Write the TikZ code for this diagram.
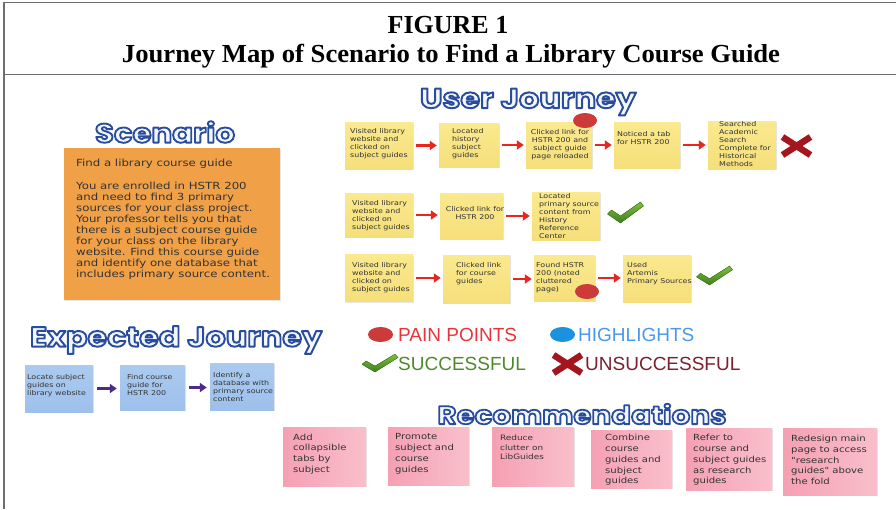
\documentclass[tikz,border=0pt]{standalone}
\usepackage{fontspec}
\usepackage{graphicx}
\setmainfont{Liberation Serif}
\newfontfamily\hand[FakeStretch=1.2]{DejaVu Sans}
\newfontfamily\legf{Liberation Sans}
\newfontfamily\headf[FakeStretch=1.15]{Poppins}
\usetikzlibrary{arrows.meta,shadows,shapes.geometric}
\definecolor{framec}{HTML}{6E6E6E}
\definecolor{orangen}{HTML}{F0A046}
\definecolor{yelT}{HTML}{FAE98E}
\definecolor{yelB}{HTML}{F6DF7A}
\definecolor{blueT}{HTML}{ABCAEF}
\definecolor{blueB}{HTML}{9DC0EC}
\definecolor{pinkA}{HTML}{F5A0B3}
\definecolor{pinkB}{HTML}{F9BFCB}
\definecolor{arrred}{HTML}{E8261E}
\definecolor{arrpur}{HTML}{4B2A8C}
\definecolor{dotred}{HTML}{CC3A3A}
\definecolor{dotblue}{HTML}{1A92E0}
\definecolor{chkL}{HTML}{7CC043}
\definecolor{chkD}{HTML}{3F7E1C}
\definecolor{xred}{HTML}{A3161E}
\definecolor{inkc}{HTML}{333333}
\definecolor{legred}{HTML}{E8343A}
\definecolor{legblue}{HTML}{4A98EC}
\definecolor{leggreen}{HTML}{4E8A2C}
\definecolor{legdred}{HTML}{7A2030}
\newcommand\outlined[1]{\special{pdf:literal direct 2 Tr 1.4 w 1 j 0.165 0.298 0.612 RG 0.95 0.97 0.995 rg}#1\special{pdf:literal direct 0 Tr 0 0 0 RG 0 0 0 rg}}
\newcommand\heading[2]{\resizebox{#1}{!}{\headf\bfseries\fontsize{20}{24}\selectfont\outlined{#2}}}
\begin{document}
\begin{tikzpicture}[x=1pt,y=-1pt,
  frame/.style={draw=framec, line width=1.8pt},
  note/.style={inner sep=0pt, drop shadow={shadow xshift=0.6pt, shadow yshift=-1.2pt, opacity=0.2}},
  ynote/.style={note, top color=yelT, bottom color=yelB},
  bnote/.style={note, top color=blueT, bottom color=blueB},
  pnote/.style={note, left color=pinkA, right color=pinkB},
  onote/.style={note, fill=orangen},
  ytxt/.style={font=\hand\fontsize{6.6}{8}\selectfont, text=inkc, align=left, inner sep=0pt, anchor=west},
  ctxt/.style={ytxt, align=center, anchor=center},
  ptxt/.style={font=\hand\fontsize{8.4}{10.8}\selectfont, text=inkc, align=left, inner sep=0pt, anchor=west},
  stxt/.style={font=\hand\fontsize{9.8}{11}\selectfont, text=inkc, align=left, inner sep=0pt, anchor=west},
  rarr/.style={draw=arrred, line width=2.6pt, -{Triangle[length=7pt,width=9pt]}, shorten <=3pt, shorten >=2pt},
  parr/.style={draw=arrpur, line width=2.6pt, -{Triangle[length=7pt,width=9pt]}, shorten <=4pt, shorten >=3pt},
  dot/.style={ellipse, minimum width=24pt, minimum height=15pt, inner sep=0pt},
  legtxt/.style={font=\legf\fontsize{19}{22}\selectfont, anchor=west, inner sep=0pt},
  head/.style={inner sep=0pt},
  titletxt/.style={font=\bfseries\fontsize{26}{30}\selectfont, anchor=base, inner sep=0pt},
  pics/chk/.style={code={\fill[top color=chkL, bottom color=chkD, draw=chkD, line width=0.4pt, line join=round] (-18,1) -- (-14,-3) -- (-5,3) -- (15,-11) -- (18,-7) -- (-5,10) -- cycle;}},
  pics/xmk/.style={code={\draw[xred, line width=6.5pt] (-14,-9) -- (14,9) (-14,9) -- (14,-9);}}
]
\useasboundingbox (0,0) rectangle (896,509);
% frame
\draw[frame] (4,2.5) -- (896,2.5);
\draw[frame] (4,74.5) -- (896,74.5);
\draw[frame] (4,1.6) -- (4,509);
% title
\node[titletxt] (t1) at (448,33) {FIGURE 1};
\node[titletxt] (t2) at (451,62) {\scalebox{1.025}[1]{Journey Map of Scenario to Find a Library Course Guide}};
% headings
\node[head] (hs) at (165,132) {\heading{140pt}{Scenario}};
\node[head] (hu) at (528,102) {\heading{216pt}{User Journey}};
\node[head] (he) at (176,340) {\heading{292pt}{Expected Journey}};
\node[head] (hr) at (582,414) {\heading{289pt}{Recommendations}};
% scenario
\node[onote, minimum width=216pt, minimum height=152pt] (sc) at (172,224) {};
\node[stxt] (sct) at (76,219) {Find a library course guide\\[12pt]You are enrolled in HSTR 200\\and need to find 3 primary\\sources for your class project.\\Your professor tells you that\\there is a subject course guide\\for your class on the library\\website. Find this course guide\\and identify one database that\\includes primary source content.};
% user journey row 1
\node[ynote, minimum width=68pt, minimum height=47pt] (a1) at (379,145.5) {};
\node[ynote, minimum width=60pt, minimum height=44pt] (a2) at (469,145) {};
\node[ynote, minimum width=66pt, minimum height=46pt] (a3) at (559,145) {};
\node[ynote, minimum width=66pt, minimum height=46pt] (a4) at (647,145) {};
\node[ynote, minimum width=68pt, minimum height=48pt] (a5) at (742,145) {};
\node[ytxt] (a1t) at (350,143.5) {Visited library\\website and\\clicked on\\subject guides};
\node[ytxt] (a2t) at (452,144) {Located\\history\\subject\\guides};
\node[ctxt] (a3t) at (560,145) {Clicked link for\\HSTR 200 and\\subject guide\\page reloaded};
\node[ytxt] (a4t) at (617,138) {Noticed a tab\\for HSTR 200};
\node[ytxt] (a5t) at (719,144.5) {Searched\\Academic\\Search\\Complete for\\Historical\\Methods};
\node[dot, fill=dotred] (d1) at (585,120.5) {};
\pic at (796.5,146) {xmk};
\draw[rarr] (a1.east) -- (a1.east -| a2.west);
\draw[rarr] (a2.east) -- (a2.east -| a3.west);
\draw[rarr] (a3.east) -- (a3.east -| a4.west);
\draw[rarr] (a4.east) -- (a4.east -| a5.west);
% row 2
\node[ynote, minimum width=68pt, minimum height=44pt] (b1) at (379,215) {};
\node[ynote, minimum width=63pt, minimum height=46pt] (b2) at (471.5,216) {};
\node[ynote, minimum width=68pt, minimum height=48pt] (b3) at (566,216) {};
\node[ytxt] (b1t) at (352,215.5) {Visited library\\website and\\clicked on\\subject guides};
\node[ctxt] (b2t) at (475,213.5) {Clicked link for\\HSTR 200};
\node[ytxt] (b3t) at (539,216) {Located\\primary source\\content from\\History\\Reference\\Center};
\pic at (625.5,213) {chk};
\draw[rarr] (b1.east) -- (b1.east -| b2.west);
\draw[rarr] (b2.east) -- (b2.east -| b3.west);
% row 3
\node[ynote, minimum width=68pt, minimum height=47pt] (c1) at (379,278) {};
\node[ynote, minimum width=67pt, minimum height=48pt] (c2) at (476.5,279) {};
\node[ynote, minimum width=61pt, minimum height=46pt] (c3) at (564.5,278) {};
\node[ynote, minimum width=68pt, minimum height=47pt] (c4) at (657,278.5) {};
\node[ytxt] (c1t) at (352,277.5) {Visited library\\website and\\clicked on\\subject guides};
\node[ytxt] (c2t) at (456,273.5) {Clicked link\\for course\\guides};
\node[ytxt] (c3t) at (536,277.5) {Found HSTR\\200 (noted\\cluttered\\page)};
\node[ytxt] (c4t) at (627,273.5) {Used\\Artemis\\Primary Sources};
\node[dot, fill=dotred] (d2) at (587,291.5) {};
\pic[yscale=0.9] at (714.5,276) {chk};
\draw[rarr] (c1.east) -- (c1.east -| c2.west);
\draw[rarr] (c2.east) -- (c2.east -| c3.west);
\draw[rarr] (c3.east) -- (c3.east -| c4.west);
% legend
\node[dot, fill=dotred, minimum width=25pt] (lg1) at (380.5,334.5) {};
\node[legtxt, text=legred] (lg1t) at (398,334.5) {PAIN POINTS};
\node[dot, fill=dotblue, minimum width=25pt] (lg2) at (562.5,334.5) {};
\node[legtxt, text=legblue] (lg2t) at (578,334.5) {HIGHLIGHTS};
\pic[yscale=0.85] at (380,363.5) {chk};
\node[legtxt, text=leggreen] (lg3t) at (398,364) {SUCCESSFUL};
\pic at (567.5,364) {xmk};
\node[legtxt, text=legdred] (lg4t) at (585,364) {UNSUCCESSFUL};
% expected journey
\node[bnote, minimum width=68pt, minimum height=47pt] (e1) at (59,388.5) {};
\node[bnote, minimum width=65pt, minimum height=45pt] (e2) at (152.5,387.5) {};
\node[bnote, minimum width=64pt, minimum height=47pt] (e3) at (242,386.5) {};
\node[ytxt] (e1t) at (27,386) {Locate subject\\guides on\\library website};
\node[ytxt] (e2t) at (127,385) {Find course\\guide for\\HSTR 200};
\node[ytxt] (e3t) at (213,387.5) {Identify a\\database with\\primary source\\content};
\draw[parr] (e1.east) -- (e1.east -| e2.west);
\draw[parr] (e2.east) -- (e2.east -| e3.west);
% recommendations
\node[pnote, minimum width=83pt, minimum height=59pt] (p1) at (324.5,456.5) {};
\node[pnote, minimum width=81pt, minimum height=58pt] (p2) at (428.5,456) {};
\node[pnote, minimum width=82pt, minimum height=59pt] (p3) at (533,456.5) {};
\node[pnote, minimum width=81pt, minimum height=58pt] (p4) at (631.5,459) {};
\node[pnote, minimum width=86pt, minimum height=62pt] (p5) at (729,459) {};
\node[pnote, minimum width=94pt, minimum height=67pt] (p6) at (830,461.5) {};
\node[ptxt] (p1t) at (293,454) {Add\\collapsible\\tabs by\\subject};
\node[ptxt] (p2t) at (395,454) {Promote\\subject and\\course\\guides};
\node[ptxt, font=\hand\fontsize{7.4}{9.3}\selectfont] (p3t) at (500,447.5) {Reduce\\clutter on\\LibGuides};
\node[ptxt] (p4t) at (605,460) {Combine\\course\\guides and\\subject\\guides};
\node[ptxt] (p5t) at (693,460) {Refer to\\course and\\subject guides\\as research\\guides};
\node[ptxt] (p6t) at (791,460) {Redesign main\\page to access\\"research\\guides" above\\the fold};
\end{tikzpicture}
\end{document}
